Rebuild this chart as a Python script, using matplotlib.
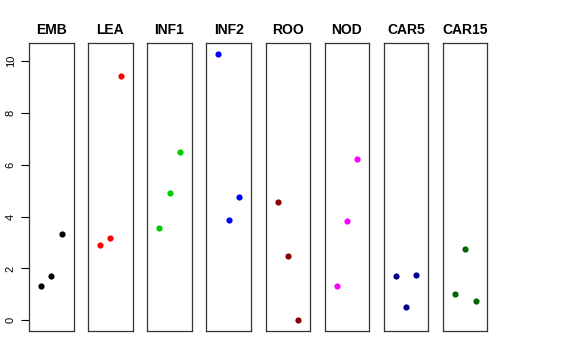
import numpy as np
import matplotlib.pyplot as plt

plt.rcParams['font.family'] = ['Liberation Sans', 'DejaVu Sans']

# data
stages = ["EMB", "LEA", "INF1", "INF2", "ROO", "NOD", "CAR5", "CAR15"]
colors = ["black", "red", "#00CD00", "blue", "#8B0000", "magenta", "#00008B", "#006400"]
positions = [1, 2, 3]
values = {
    "EMB": [1.31, 1.71, 3.33],
    "LEA": [2.89, 3.17, 9.42],
    "INF1": [3.56, 4.92, 6.49],
    "INF2": [10.28, 3.88, 4.74],
    "ROO": [4.57, 2.48, 0.0],
    "NOD": [1.33, 3.84, 6.22],
    "CAR5": [1.70, 0.51, 1.75],
    "CAR15": [1.01, 2.75, 0.74],
}
yticks = [0, 2, 4, 6, 8, 10]

W, H = 576, 360
fig = plt.figure(figsize=(W / 100, H / 100), dpi=100)

left0, step, width = 29, 59.14, 44.5
top, bottom = 43, 331

ymin, ymax = -0.41, 10.69
for i, name in enumerate(stages):
    x0 = left0 + i * step
    ax = fig.add_axes([x0 / W, (H - bottom) / H, width / W, (bottom - top) / H])
    ax.scatter(positions, values[name], s=20, color=colors[i], linewidths=0, zorder=3)
    ax.set_xlim(-0.16, 4.16)
    ax.set_ylim(ymin, ymax)
    ax.set_xticks([])
    ax.set_title(name, fontsize=10, fontweight="bold", pad=6.5)
    for sp in ax.spines.values():
        sp.set_color("#333333")
        sp.set_linewidth(0.9)
    if i == 0:
        ax.set_yticks(yticks)
        ax.set_yticklabels([str(v) for v in yticks], rotation=90, va="center", fontsize=8)
        ax.tick_params(axis="y", length=5.5, width=0.8, pad=4)
    else:
        ax.set_yticks([])

fig.savefig("out.png", dpi=100)
